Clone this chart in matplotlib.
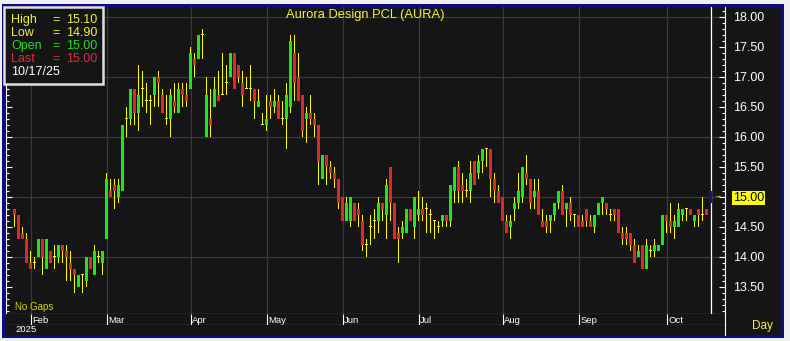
import matplotlib.pyplot as plt
import matplotlib.patches as patches
from matplotlib.ticker import MultipleLocator
import numpy as np

plt.rcParams['font.family'] = ['Liberation Sans', 'DejaVu Sans']

# ---- data (daily OHLC) ----
title = 'Aurora Design PCL (AURA)'
year_label = '2025'
last_date = '10/17/25'
months = ['Jan', 'Feb', 'Mar', 'Apr', 'May', 'Jun', 'Jul', 'Aug', 'Sep', 'Oct']
bars_per_month = [4, 19, 21, 19, 19, 19, 21, 19, 22, 12]
yticks = [13.5, 14.0, 14.5, 15.0, 15.5, 16.0, 16.5, 17.0, 17.5, 18.0]

opens = [14.8, 14.7, 14.4, 14.3, 13.9, 13.9, 14.0, 14.3, 13.8, 14.1,
         14.0, 14.0, 14.2, 14.1, 13.9, 13.8, 13.5, 13.7, 13.6, 14.0,
         13.7, 14.0, 13.9, 14.3, 15.1, 15.2, 15.0, 15.1, 16.3, 16.3,
         16.8, 16.4, 16.8, 16.6, 16.6, 16.7, 17.0, 16.7, 16.3, 16.3,
         16.6, 16.4, 16.8, 16.7, 16.8, 17.3, 17.3, 17.7, 16.0, 16.3,
         16.5, 16.7, 16.7, 16.9, 17.0, 17.4, 17.2, 16.9, 16.8, 16.8,
         16.8, 16.5, 16.2, 16.2, 16.6, 16.5, 16.6, 16.3, 16.3, 16.5,
         17.4, 17.0, 16.7, 16.3, 16.4, 16.3, 16.2, 15.3, 15.7, 15.5,
         15.4, 15.3, 15.0, 14.6, 14.6, 14.9, 14.8, 14.6, 14.2, 14.5,
         14.6, 14.6, 14.9, 14.7, 15.5, 14.9, 14.4, 14.4, 14.4, 14.8,
         14.5, 14.7, 14.8, 14.8, 14.7, 14.6, 14.5, 14.6, 14.7, 14.6,
         15.1, 15.5, 15.2, 15.1, 15.1, 15.6, 15.4, 15.6, 15.8, 15.8,
         15.3, 15.1, 15.0, 14.6, 14.5, 14.8, 14.9, 15.0, 15.4, 15.3,
         15.0, 15.1, 14.6, 14.6, 14.6, 14.7, 14.9, 15.1, 14.8, 14.9,
         14.7, 14.7, 14.6, 14.8, 14.6, 14.5, 14.7, 14.9, 14.9, 14.7,
         14.8, 14.8, 14.4, 14.4, 14.4, 14.2, 14.0, 14.2, 13.8, 14.1,
         14.1, 14.1, 14.2, 14.7, 14.6, 14.5, 14.5, 14.7, 14.8, 14.8,
         14.6, 14.8, 14.7, 14.8, 15.0]
highs = [14.8, 14.7, 14.5, 14.4, 14.1, 14.0, 14.3, 14.3, 14.3, 14.1,
         14.2, 14.2, 14.2, 14.2, 14.1, 13.8, 13.7, 13.7, 14.0, 14.0,
         14.2, 14.1, 14.1, 15.4, 15.3, 15.3, 15.3, 16.2, 16.5, 16.8,
         16.8, 17.2, 17.1, 16.9, 16.7, 17.0, 17.1, 16.8, 16.7, 16.8,
         16.9, 16.9, 16.9, 16.9, 17.5, 17.4, 17.7, 17.8, 17.0, 16.8,
         17.0, 17.1, 17.4, 17.2, 17.4, 17.4, 17.2, 17.1, 17.0, 17.2,
         16.8, 16.8, 16.4, 16.7, 16.7, 16.8, 16.7, 16.6, 16.9, 17.7,
         17.7, 17.4, 16.7, 16.5, 16.7, 16.4, 16.2, 15.7, 15.7, 15.6,
         15.5, 15.3, 15.0, 15.0, 15.0, 14.9, 14.9, 14.7, 14.3, 14.7,
         14.8, 15.0, 14.9, 15.3, 15.5, 14.9, 14.5, 14.6, 14.8, 14.8,
         15.0, 15.1, 15.0, 14.9, 14.8, 14.6, 14.6, 14.7, 14.7, 15.2,
         15.5, 15.6, 15.4, 15.3, 15.6, 15.6, 15.7, 15.8, 15.8, 15.8,
         15.4, 15.2, 15.0, 14.7, 14.7, 15.0, 15.4, 15.5, 15.7, 15.3,
         15.3, 15.3, 14.8, 14.7, 14.7, 14.9, 15.1, 15.2, 14.9, 15.0,
         14.7, 14.7, 14.7, 14.8, 14.7, 14.7, 14.9, 15.0, 14.9, 14.8,
         14.8, 14.8, 14.5, 14.5, 14.4, 14.3, 14.2, 14.2, 14.3, 14.2,
         14.3, 14.2, 14.7, 14.7, 14.9, 14.7, 14.9, 14.8, 14.8, 14.8,
         14.7, 14.8, 15.0, 14.8, 15.1]
lows = [14.5, 14.3, 14.3, 13.9, 13.8, 13.8, 14.0, 13.7, 13.8, 13.9,
        13.8, 13.9, 13.9, 13.6, 13.6, 13.4, 13.5, 13.4, 13.5, 13.8,
        13.7, 13.9, 13.7, 14.3, 15.0, 14.8, 14.9, 15.1, 16.0, 16.2,
        16.2, 16.1, 16.5, 16.4, 16.2, 16.5, 16.5, 16.4, 16.2, 16.0,
        16.4, 16.4, 16.5, 16.5, 16.8, 17.0, 17.3, 17.3, 16.0, 16.0,
        16.5, 16.6, 16.7, 16.7, 17.0, 16.8, 16.9, 16.5, 16.8, 16.6,
        16.3, 16.5, 16.2, 16.1, 16.3, 16.4, 16.3, 16.2, 15.8, 16.4,
        16.6, 16.6, 16.0, 15.9, 16.2, 16.0, 15.2, 15.3, 15.2, 15.3,
        15.15, 14.8, 14.6, 14.6, 14.5, 14.6, 14.5, 14.1, 14.0, 14.2,
        14.3, 14.4, 14.6, 14.3, 14.6, 14.3, 13.9, 14.3, 14.4, 14.6,
        14.3, 14.6, 14.6, 14.4, 14.4, 14.3, 14.4, 14.5, 14.5, 14.5,
        14.9, 14.9, 14.9, 15.0, 14.9, 15.2, 15.3, 15.4, 15.5, 15.0,
        14.9, 14.9, 14.6, 14.4, 14.3, 14.6, 14.8, 14.9, 15.2, 14.8,
        14.8, 14.7, 14.5, 14.4, 14.4, 14.6, 14.8, 14.7, 14.5, 14.6,
        14.5, 14.5, 14.5, 14.5, 14.5, 14.4, 14.7, 14.7, 14.7, 14.6,
        14.6, 14.4, 14.2, 14.2, 14.1, 13.9, 14.0, 13.8, 13.8, 14.0,
        14.0, 14.1, 14.2, 14.4, 14.4, 14.3, 14.5, 14.6, 14.6, 14.7,
        14.5, 14.5, 14.6, 14.7, 14.9]
closes = [14.7, 14.3, 14.3, 13.9, 13.8, 13.9, 14.3, 14.0, 14.3, 13.9,
          14.0, 14.2, 14.1, 14.0, 13.8, 13.7, 13.7, 13.7, 14.0, 13.8,
          14.1, 14.0, 14.1, 15.3, 15.0, 15.1, 15.2, 16.2, 16.3, 16.8,
          16.4, 16.7, 16.8, 16.6, 16.6, 17.0, 16.9, 16.4, 16.3, 16.7,
          16.5, 16.8, 16.7, 16.6, 17.4, 17.2, 17.7, 17.7, 16.7, 16.2,
          16.8, 16.6, 16.7, 16.9, 17.4, 16.8, 17.0, 16.7, 16.8, 16.8,
          16.6, 16.6, 16.2, 16.3, 16.5, 16.6, 16.3, 16.3, 16.7, 17.6,
          16.9, 16.6, 16.1, 16.4, 16.3, 16.2, 15.6, 15.7, 15.5, 15.4,
          15.3, 14.9, 14.6, 14.9, 15.0, 14.6, 14.7, 14.2, 14.2, 14.5,
          14.6, 14.9, 14.8, 15.2, 14.9, 14.3, 14.3, 14.5, 14.8, 14.6,
          15.0, 14.8, 14.7, 14.8, 14.7, 14.6, 14.5, 14.7, 14.6, 15.2,
          15.5, 15.1, 15.1, 15.1, 15.4, 15.2, 15.6, 15.8, 15.8, 15.3,
          15.1, 14.9, 14.6, 14.4, 14.6, 14.9, 15.1, 15.5, 15.3, 14.9,
          15.1, 14.7, 14.5, 14.5, 14.7, 14.9, 15.1, 14.7, 14.9, 14.7,
          14.7, 14.5, 14.5, 14.6, 14.5, 14.7, 14.9, 15.0, 14.8, 14.7,
          14.7, 14.4, 14.3, 14.3, 14.2, 13.9, 14.1, 13.8, 14.2, 14.1,
          14.2, 14.2, 14.7, 14.6, 14.5, 14.6, 14.8, 14.8, 14.8, 14.7,
          14.7, 14.7, 14.7, 14.7, 15.0]

# ---- colours ----
BG = '#151515'
GRID = '#3a3a3a'
GREEN = '#1ee61e'
RED = '#e02828'
WICK = '#ffff00'
YELLOW = '#f0f040'
NAVY = '#0c0c84'

W, H = 790, 341


def fx(px):
    return px / W


def fy(py):
    return 1 - py / H


fig = plt.figure(figsize=(W / 100, H / 100), dpi=100, facecolor='#f0f0f0')

# frame
fig.add_artist(patches.Rectangle((fx(2), fy(338)), fx(782), 334 / H, transform=fig.transFigure,
                                 facecolor=NAVY, edgecolor='none', zorder=-10))
fig.add_artist(patches.Rectangle((fx(5), fy(335)), fx(776), 328 / H, transform=fig.transFigure,
                                 facecolor=BG, edgecolor='none', zorder=-9))

ax = fig.add_axes([fx(6), fy(314), 719 / W, 307 / H], facecolor=BG)

o = np.array(opens)
h = np.array(highs)
l = np.array(lows)
c = np.array(closes)
x = np.arange(len(c))
n = len(c) - 1  # last bar drawn as the highlighted one

up = c[:n] > o[:n] + 1e-9
dn = c[:n] < o[:n] - 1e-9
flat = ~up & ~dn
xs = x[:n]

# wicks as 1-pixel wide bars so they stay crisp and yellow
ax.bar(xs, h[:n] - l[:n], bottom=l[:n], width=0.25, color=WICK, lw=0,
       antialiased=False, zorder=3)
ax.bar(xs[up], (c[:n] - o[:n])[up], bottom=o[:n][up], width=0.75, color=GREEN,
       lw=0, antialiased=False, zorder=4)
ax.bar(xs[dn], (o[:n] - c[:n])[dn], bottom=c[:n][dn], width=0.75, color=RED,
       lw=0, antialiased=False, zorder=4)
ax.bar(xs[flat], 0.0167, bottom=c[:n][flat] - 0.008, width=0.75, color=WICK,
       lw=0, antialiased=False, zorder=4)

# current bar + cursor line
ax.axvline(x[n], color='white', lw=0.9, zorder=5)
ax.bar(x[n], h[n] - l[n], bottom=l[n], width=0.75, color='#14148c', lw=0,
       antialiased=False, zorder=6)
ax.text(x[n] + 1.7, c[n], '→', color=WICK, fontsize=6, ha='center', va='center', zorder=6)

# month boundaries
starts = np.cumsum([0] + bars_per_month[:-1])
for s in starts[1:]:
    ax.axvline(s, color=GRID, lw=0.9, zorder=1)
for v in range(14, 19):
    ax.axhline(v, color=GRID, lw=0.9, zorder=1)

ax.set_xlim((6 - 14.5) / 4, (725 - 14.5) / 4)
ax.set_ylim(13.045, 18.16)
ax.set_xticks([])
ax.set_yticks(yticks, labels=[f'{v:.2f}' for v in yticks])
ax.yaxis.set_minor_locator(MultipleLocator(0.1))
ax.tick_params(axis='y', which='both', left=True, right=True, labelleft=False,
               labelright=True, direction='in', colors='white', labelsize=9, pad=6, width=0.8)
ax.tick_params(axis='y', which='major', length=4)
ax.tick_params(axis='y', which='minor', length=2.5)
for lab in ax.get_yticklabels():
    lab.set_color('white')
    if lab.get_text() == f'{c[n]:.2f}':
        lab.set_color('black')
        lab.set_bbox(dict(facecolor='#ffff00', edgecolor='none', pad=0.6))
ax.spines['top'].set_visible(False)
for s in ['left', 'right', 'bottom']:
    ax.spines[s].set_color('white')
    ax.spines[s].set_linewidth(0.8)

ax.text(0.5, 0.975, title, transform=ax.transAxes, color=YELLOW, fontsize=9.3,
        ha='center', va='center')
ax.text(9 / 719, 0.022, 'No Gaps', transform=ax.transAxes,
        color='#d4d400', fontsize=7, ha='left', va='center')

# month label strip
axm = fig.add_axes([fx(6), fy(325), 719 / W, 11 / H], facecolor=BG, sharex=ax)
axm.set_ylim(0, 1)
axm.set_yticks([])
axm.tick_params(axis='x', which='both', bottom=False, labelbottom=False)
axm.vlines(starts[1:], 0, 1, color='white', lw=0.8)
for s, name in zip(starts[1:], months[1:]):
    axm.text(s + 0.4, 0.38, name, color='white', fontsize=6.8, ha='left', va='center')
for s in ['left', 'top']:
    axm.spines[s].set_visible(False)
for s in ['right', 'bottom']:
    axm.spines[s].set_color('white')
    axm.spines[s].set_linewidth(0.8)

axy = fig.add_axes([fx(6), fy(335), 719 / W, 10 / H], facecolor=BG)
axy.set_xticks([])
axy.set_yticks([])
for s in ['left', 'top', 'bottom']:
    axy.spines[s].set_visible(False)
axy.spines['right'].set_color('white')
axy.spines['right'].set_linewidth(0.8)
fig.text(fx(15), fy(330), year_label, color='white', fontsize=6.8, ha='left', va='center')
fig.text(fx(762), fy(326), 'Day', color=YELLOW, fontsize=8.5, ha='center', va='center')

# info box
fig.add_artist(patches.Rectangle((fx(4), fy(84)), 99 / W, 77 / H, transform=fig.transFigure,
                                 facecolor=BG, edgecolor='#e0e0e0', lw=1.8, zorder=5))
rows = [('High', highs[n], YELLOW), ('Low', lows[n], YELLOW),
        ('Open', opens[n], '#20e020'), ('Last', closes[n], '#e03030')]
for k, (name, val, col) in enumerate(rows):
    yy = fy(20 + 13 * k)
    fig.text(fx(11), yy, name, color=col, fontsize=9, va='center', zorder=6)
    fig.text(fx(52), yy, '=', color=col, fontsize=9, va='center', zorder=6)
    fig.text(fx(66), yy, f'{val:.2f}', color=col, fontsize=9, va='center', zorder=6)
fig.text(fx(11), fy(72), last_date, color='white', fontsize=9, va='center', zorder=6)

fig.savefig('out.png', dpi=100, facecolor=fig.get_facecolor())
